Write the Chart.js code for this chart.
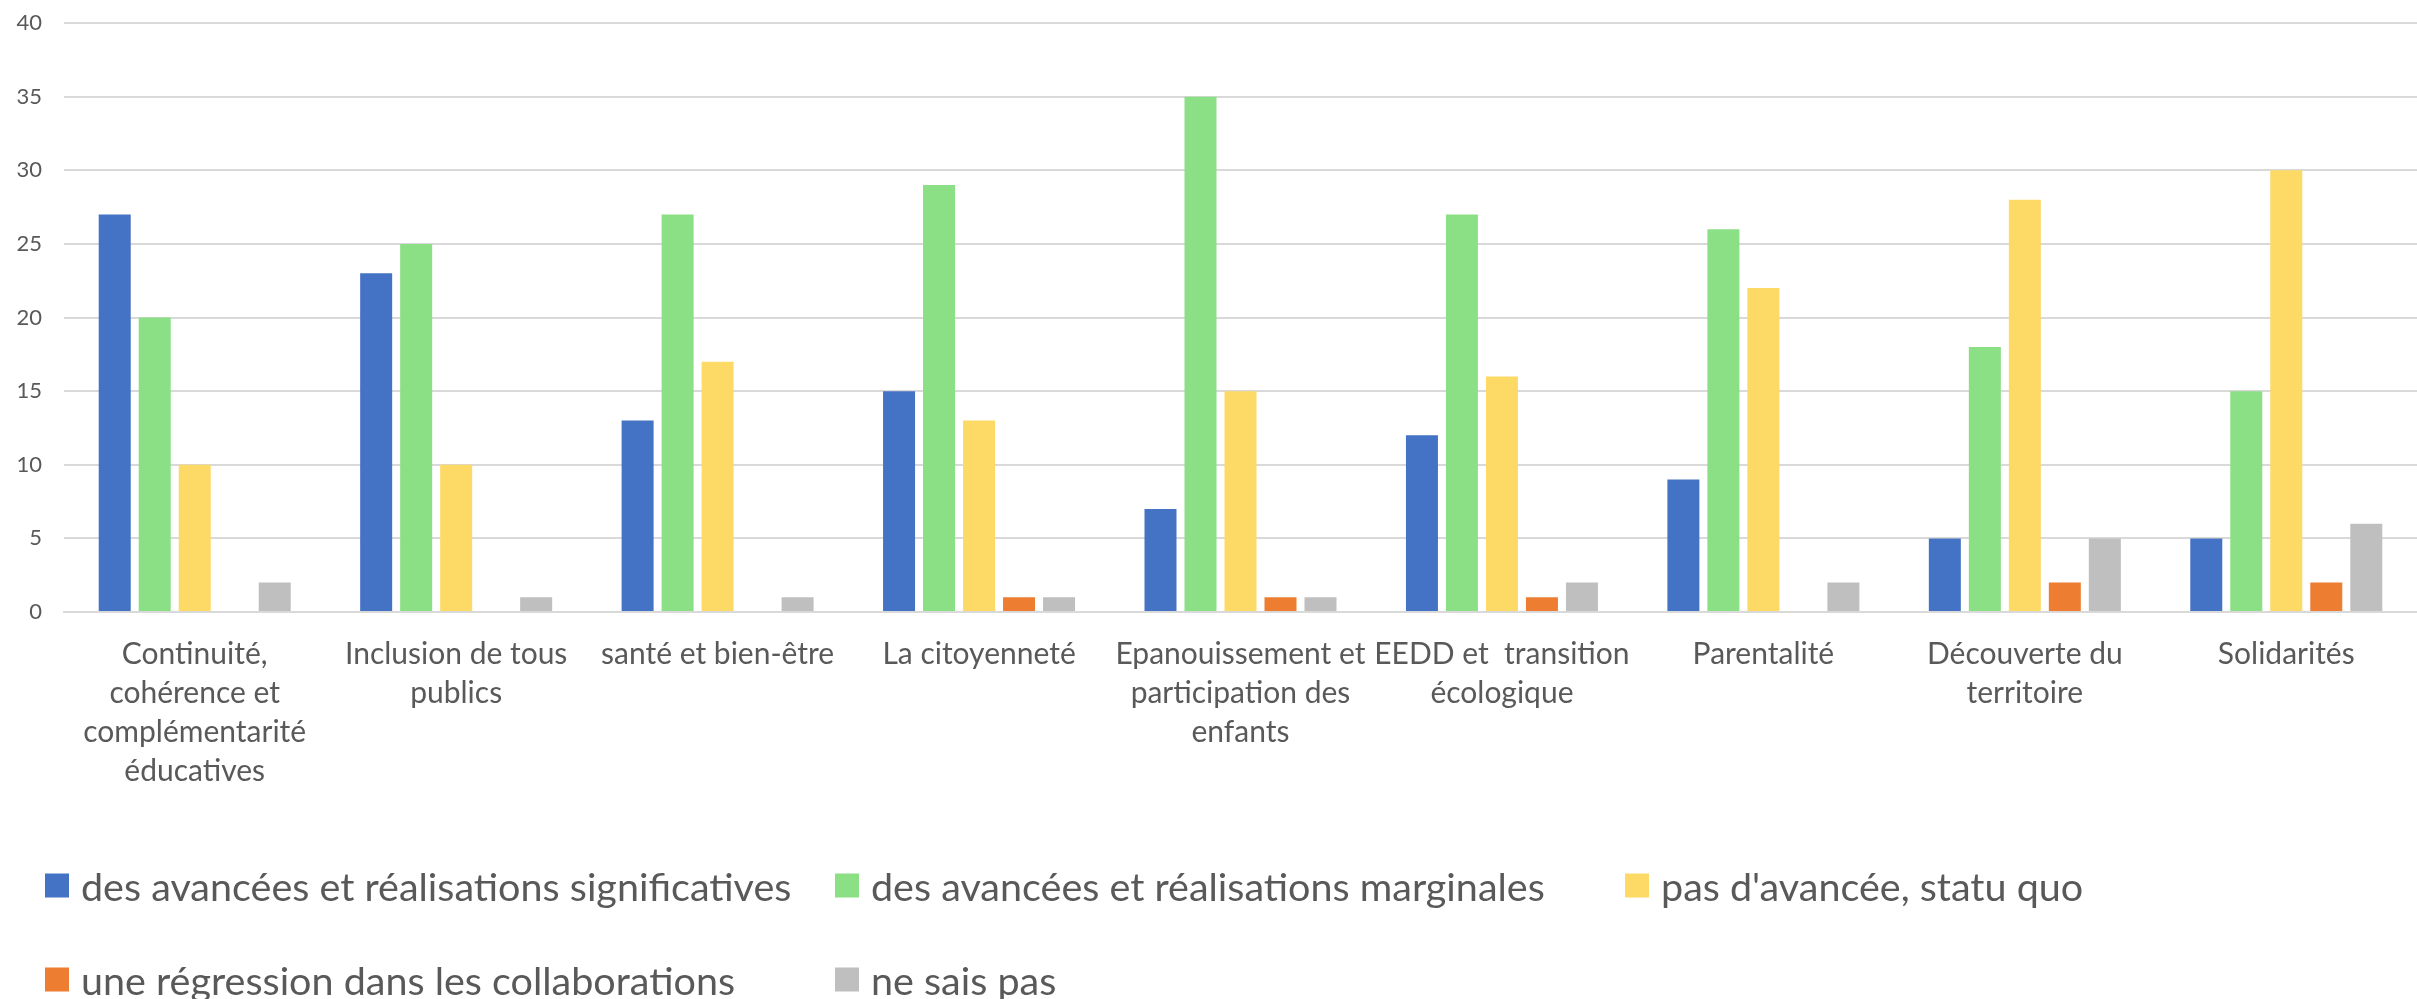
<!DOCTYPE html>
<html lang="fr">
<head>
<meta charset="utf-8">
<script src="https://cdn.jsdelivr.net/npm/chart.js@4"></script>
<style>
  html, body { margin: 0; padding: 0; background: #fff; overflow: hidden; }
  #zone { position: relative; width: 2417px; height: 999px; }
  #graphique { position: absolute; left: 0; top: 0; }
  #legende { position: absolute; left: 0; top: 0; width: 2417px; height: 999px; pointer-events: none; }
  .item { position: absolute; display: flex; align-items: center; font-family: Lato, sans-serif; font-size: 39.5px; color: #595959; white-space: nowrap; transform: translateY(-50%); }
  .carre { width: 24px; height: 24px; margin-right: 12px; flex: none; }
</style>
</head>
<body>
<div id="zone">
  <canvas id="graphique" width="2417" height="999"></canvas>
  <div id="legende"></div>
</div>
<script>
const categories = [
  ["Continuité,", "cohérence et", "complémentarité", "éducatives"],
  ["Inclusion de tous", "publics"],
  "santé et bien-être",
  "La citoyenneté",
  ["Epanouissement et", "participation des", "enfants"],
  ["EEDD et  transition", "écologique"],
  "Parentalité",
  ["Découverte du", "territoire"],
  "Solidarités"
];

const significatives = [27, 23, 13, 15, 7, 12, 9, 5, 5];
const marginales = [20, 25, 27, 29, 35, 27, 26, 18, 15];
const statuQuo = [10, 10, 17, 13, 15, 16, 22, 28, 30];
const regression = [0, 0, 0, 1, 1, 1, 0, 2, 2];
const neSaisPas = [2, 1, 1, 1, 1, 2, 2, 5, 6];

const nomsSeries = [
  "des avancées et réalisations significatives",
  "des avancées et réalisations marginales",
  "pas d'avancée, statu quo",
  "une régression dans les collaborations",
  "ne sais pas"
];
const couleurs = ['#4472C4', '#8BDF84', '#FDD966', '#ED7D31', '#BFBFBF'];
const valeurs = [significatives, marginales, statuQuo, regression, neSaisPas];

const graphique = new Chart(document.getElementById('graphique'), {
  type: 'bar',
  data: {
    labels: categories,
    datasets: valeurs.map((v, i) => ({
      label: nomsSeries[i],
      data: v,
      backgroundColor: couleurs[i],
      categoryPercentage: 0.765,
      barPercentage: 0.8
    }))
  },
  options: {
    responsive: false,
    animation: false,
    layout: { padding: { top: 23, right: 0, left: 0, bottom: 0 } },
    plugins: {
      legend: { display: false },
      tooltip: { enabled: false }
    },
    scales: {
      x: {
        grid: { display: false, drawTicks: false },
        border: { color: '#D9D9D9', width: 2 },
        ticks: {
          color: '#595959',
          padding: 23,
          maxRotation: 0,
          autoSkip: false,
          font: { family: 'Lato', size: 30, lineHeight: 1.3 }
        },
        afterFit: (axe) => {
          axe.height = 999 - 612;
          axe.paddingLeft = 0;
          axe.paddingRight = 0;
        }
      },
      y: {
        min: 0,
        max: 40,
        ticks: {
          stepSize: 5,
          color: '#595959',
          padding: 22,
          font: { family: 'Lato', size: 22 }
        },
        grid: { color: '#D9D9D9', lineWidth: 2, drawTicks: false },
        border: { display: false },
        afterFit: (axe) => {
          axe.width = 64;
          axe.paddingTop = 0;
          axe.paddingBottom = 0;
        }
      }
    }
  }
});

// légende façon Excel, en colonnes
const positions = [
  [45, 885], [835, 885], [1625, 885],
  [45, 979], [835, 979]
];
const legende = document.getElementById('legende');
nomsSeries.forEach((nom, i) => {
  const item = document.createElement('div');
  item.className = 'item';
  item.style.left = positions[i][0] + 'px';
  item.style.top = positions[i][1] + 'px';
  item.innerHTML = '<span class="carre" style="background:' + couleurs[i] + '"></span><span>' + nom + '</span>';
  legende.appendChild(item);
});
</script>
</body>
</html>
